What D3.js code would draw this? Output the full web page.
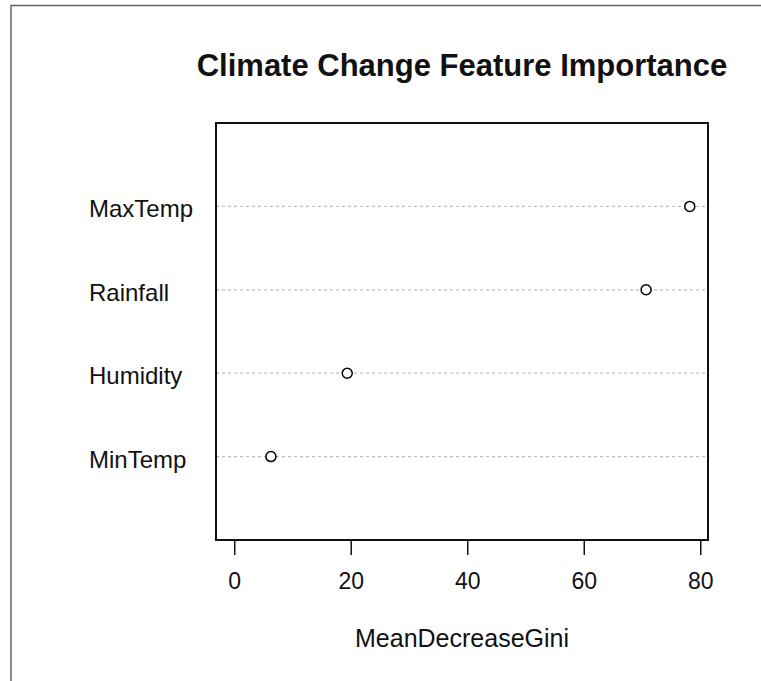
<!DOCTYPE html>
<html>
<head>
<meta charset="utf-8">
<script src="https://cdn.jsdelivr.net/npm/d3@7/dist/d3.min.js"></script>
<style>
  html, body { margin: 0; padding: 0; background: #fff; }
  svg { display: block; }
  text { font-family: "Liberation Sans", Arial, sans-serif; fill: #111; }
</style>
</head>
<body>
<svg id="chart" width="761" height="681"></svg>
<script>
const categories = ["MinTemp", "Humidity", "Rainfall", "MaxTemp"];
const values = [6.3, 19.4, 70.7, 78.2];
const xTicks = [0, 20, 40, 60, 80];
const title = "Climate Change Feature Importance";
const xLabel = "MeanDecreaseGini";

const svg = d3.select("#chart");
const plot = { left: 216, right: 708, top: 123, bottom: 540 };

// outer frame
svg.append("path")
  .attr("d", `M11,681 L11,5.5 L761,5.5`)
  .attr("fill", "none").attr("stroke", "#666").attr("stroke-width", 1.5);

const xMax = d3.max(values);
const pad = 0.04 * xMax;
const x = d3.scaleLinear().domain([0 - pad, xMax + pad]).range([plot.left, plot.right]);
const y = d3.scaleLinear().domain([0, categories.length + 1]).range([plot.bottom, plot.top]);

// dotted grid lines
svg.append("g").selectAll("line").data(categories).join("line")
  .attr("x1", plot.left).attr("x2", plot.right)
  .attr("y1", (d, i) => y(i + 1)).attr("y2", (d, i) => y(i + 1))
  .attr("stroke", "#bebebe").attr("stroke-width", 1.2)
  .attr("stroke-dasharray", "3,3");

// points
svg.append("g").selectAll("circle").data(values).join("circle")
  .attr("cx", d => x(d)).attr("cy", (d, i) => y(i + 1))
  .attr("r", 5)
  .attr("fill", "#fff").attr("stroke", "#000").attr("stroke-width", 1.5);

// category labels (left aligned like R dotchart)
svg.append("g").selectAll("text").data(categories).join("text")
  .attr("x", 89).attr("y", (d, i) => y(i + 1) + 11)
  .attr("font-size", 24)
  .text(d => d);

// box
svg.append("rect")
  .attr("x", plot.left).attr("y", plot.top)
  .attr("width", plot.right - plot.left).attr("height", plot.bottom - plot.top)
  .attr("fill", "none").attr("stroke", "#111").attr("stroke-width", 2);

// x axis
const axis = d3.axisBottom(x).tickValues(xTicks).tickSize(15).tickPadding(18).tickFormat(d3.format("d"));
const gx = svg.append("g").attr("transform", `translate(0,${plot.bottom})`).call(axis);
gx.select(".domain").remove();
gx.selectAll(".tick line").attr("stroke", "#111").attr("stroke-width", 1.5);
gx.selectAll(".tick text")
  .attr("font-size", 23)
  .attr("font-family", "Liberation Sans, Arial, sans-serif")
  .attr("fill", "#111");

// axis label
svg.append("text")
  .attr("x", (plot.left + plot.right) / 2).attr("y", 647)
  .attr("text-anchor", "middle").attr("font-size", 25)
  .text(xLabel);

// title
svg.append("text")
  .attr("x", (plot.left + plot.right) / 2).attr("y", 76)
  .attr("text-anchor", "middle").attr("font-size", 31).attr("font-weight", "bold")
  .text(title);
</script>
</body>
</html>
